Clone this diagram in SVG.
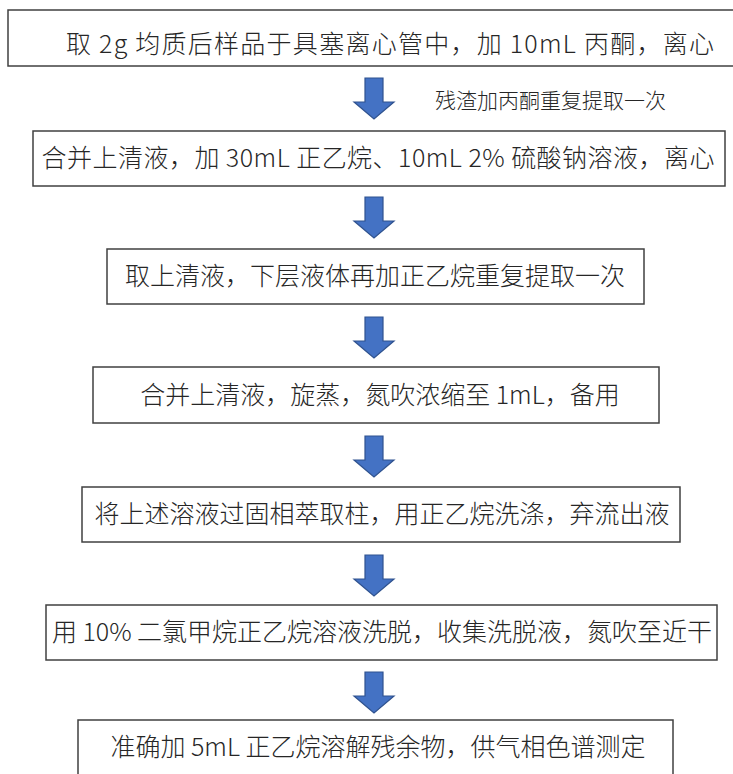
<svg xmlns="http://www.w3.org/2000/svg" width="733" height="774" viewBox="0 0 733 774">
<style>
.box{fill:#fff;stroke:#404040;stroke-width:1.5}
.t{font-family:"Noto Sans CJK SC","Noto Sans",sans-serif;font-size:25px;font-weight:300;fill:#262626;text-anchor:middle}
.lbl{font-family:"Noto Sans CJK SC","Noto Sans",sans-serif;font-size:21px;font-weight:300;fill:#262626}
.arr{fill:#4472C4;stroke:#2F528F;stroke-width:1.2}
</style>
<rect width="733" height="774" fill="#fff"/>
<g id="n1"><rect class="box" x="8" y="10" width="740" height="56"/><text class="t" x="390" y="53" textLength="648" lengthAdjust="spacing">取 2g 均质后样品于具塞离心管中，加 10mL 丙酮，离心</text></g>
<g id="n2"><rect class="box" x="33" y="131" width="692" height="55"/><text class="t" x="378" y="167" textLength="673" lengthAdjust="spacing">合并上清液，加 30mL 正乙烷、10mL 2% 硫酸钠溶液，离心</text></g>
<g id="n3"><rect class="box" x="107" y="249" width="537" height="55"/><text class="t" x="375" y="285">取上清液，下层液体再加正乙烷重复提取一次</text></g>
<g id="n4"><rect class="box" x="93" y="367" width="566" height="56"/><text class="t" x="380" y="404">合并上清液，旋蒸，氮吹浓缩至 1mL，备用</text></g>
<g id="n5"><rect class="box" x="82" y="487" width="598" height="55"/><text class="t" x="382" y="523">将上述溶液过固相萃取柱，用正乙烷洗涤，弃流出液</text></g>
<g id="n6"><rect class="box" x="46" y="605" width="671" height="55"/><text class="t" x="382" y="641">用 10% 二氯甲烷正乙烷溶液洗脱，收集洗脱液，氮吹至近干</text></g>
<g id="n7"><rect class="box" x="78" y="720" width="595" height="70"/><text class="t" x="378" y="756">准确加 5mL 正乙烷溶解残余物，供气相色谱测定</text></g>
<g id="connectors">
<path class="arr" transform="translate(374,78)" d="M-9,0 H9 V24 H20 L0,41 L-20,24 H-9 Z"/>
<path class="arr" transform="translate(374,197)" d="M-9,0 H9 V24 H20 L0,41 L-20,24 H-9 Z"/>
<path class="arr" transform="translate(374,317)" d="M-9,0 H9 V24 H20 L0,41 L-20,24 H-9 Z"/>
<path class="arr" transform="translate(374,436)" d="M-9,0 H9 V24 H20 L0,41 L-20,24 H-9 Z"/>
<path class="arr" transform="translate(374,555)" d="M-9,0 H9 V24 H20 L0,41 L-20,24 H-9 Z"/>
<path class="arr" transform="translate(374,672)" d="M-9,0 H9 V24 H20 L0,41 L-20,24 H-9 Z"/>
<text class="lbl" x="435" y="108">残渣加丙酮重复提取一次</text>
</g>
</svg>
